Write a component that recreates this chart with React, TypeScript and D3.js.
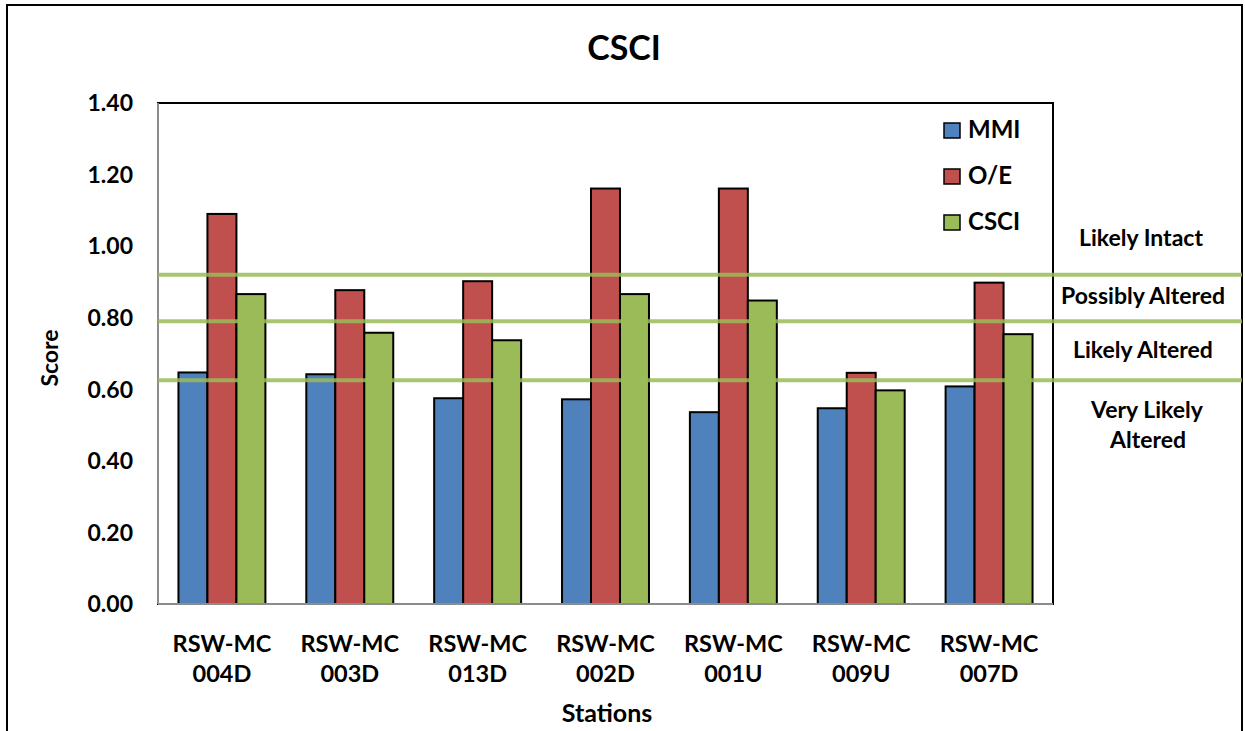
import React from "react";
import * as d3 from "d3";

const stations = ["RSW-MC\n004D", "RSW-MC\n003D", "RSW-MC\n013D", "RSW-MC\n002D", "RSW-MC\n001U", "RSW-MC\n009U", "RSW-MC\n007D"];
const seriesNames = ["MMI", "O/E", "CSCI"];
const mmi = [0.647, 0.642, 0.575, 0.572, 0.536, 0.547, 0.608];
const oe = [1.09, 0.877, 0.902, 1.161, 1.161, 0.646, 0.898];
const csci = [0.866, 0.758, 0.737, 0.866, 0.848, 0.597, 0.754];
const yTicks = [0, 0.2, 0.4, 0.6, 0.8, 1.0, 1.2, 1.4];
const thresholds = [0.92, 0.79, 0.625];
const colors = ["#4F81BD", "#C0504D", "#9BBB59"];

const FONT = "Lato, 'Open Sans', sans-serif";

export default function App() {
  const W = 1245, H = 731;
  const left = 158, right = 1053, top = 103, bottom = 604;
  const x = d3.scaleBand<number>().domain(d3.range(stations.length)).range([left, right]).paddingInner(0.32).paddingOuter(0.16);
  const xs = d3.scaleBand<number>().domain([0, 1, 2]).range([0, x.bandwidth()]).padding(0);
  const y = d3.scaleLinear().domain([0, 1.4]).range([bottom, top]);
  const series = [mmi, oe, csci];

  return (
    <svg width={W} height={H} style={{ position: "absolute", left: 0, top: 0, background: "#fff" }} fontFamily={FONT}>
      <rect x={0} y={0} width={W} height={H} fill="#fff" />
      {/* outer frame */}
      <rect x={7} y={5} width={1235} height={740} fill="none" stroke="#000" strokeWidth={2} />
      {/* title */}
      <text x={624} y={60} textAnchor="middle" fontSize={34} fontWeight="bold" fill="#000">CSCI</text>
      {/* plot area border */}
      <rect x={left} y={top} width={right - left} height={bottom - top} fill="none" stroke="#000" strokeWidth={2} />
      {/* bars */}
      {series.map((vals, si) =>
        vals.map((v, i) => (
          <rect
            key={`${si}-${i}`}
            x={(x(i) as number) + (xs(si) as number)}
            y={y(v)}
            width={xs.bandwidth()}
            height={y(0) - y(v)}
            fill={colors[si]}
            stroke="#000"
            strokeWidth={2}
          />
        ))
      )}
      {/* axes (gray) */}
      <line x1={left} x2={left} y1={top} y2={bottom} stroke="#8c8c8c" strokeWidth={2} />
      <line x1={left} x2={right} y1={bottom} y2={bottom} stroke="#8c8c8c" strokeWidth={2} />
      {/* threshold lines */}
      {thresholds.map((t, i) => (
        <line key={i} x1={left} x2={1242} y1={y(t)} y2={y(t)} stroke="#9BBB59" strokeOpacity={0.85} strokeWidth={4} />
      ))}
      {/* y tick labels */}
      {yTicks.map((t) => (
        <text key={t} x={133} y={y(t)} dy="0.36em" textAnchor="end" fontSize={23} fontWeight="bold" fill="#000">
          {t.toFixed(2)}
        </text>
      ))}
      {/* x labels */}
      {stations.map((s, i) => {
        const cx = (x(i) as number) + x.bandwidth() / 2;
        const parts = s.split("\n");
        return (
          <g key={i}>
            <text x={cx} y={652} textAnchor="middle" fontSize={23.5} fontWeight="bold" fill="#000">{parts[0]}</text>
            <text x={cx} y={682} textAnchor="middle" fontSize={23.5} fontWeight="bold" fill="#000">{parts[1]}</text>
          </g>
        );
      })}
      {/* axis titles */}
      <text x={607} y={722} textAnchor="middle" fontSize={25} fontWeight="bold" fill="#000">Stations</text>
      <text transform={`translate(58,${358}) rotate(-90)`} textAnchor="middle" fontSize={23} fontWeight="bold" fill="#000">Score</text>
      {/* legend */}
      {seriesNames.map((n, i) => (
        <g key={n}>
          <rect x={944} y={123 + i * 46} width={16} height={15} fill={colors[i]} stroke="#000" strokeWidth={1.5} />
          <text x={968} y={138 + i * 46} fontSize={24} fontWeight="bold" fill="#000">{n}</text>
        </g>
      ))}
      {/* zone labels */}
      <text x={1141} y={246} textAnchor="middle" fontSize={23} fontWeight="bold" fill="#000">Likely Intact</text>
      <text x={1143} y={304} textAnchor="middle" fontSize={23} fontWeight="bold" fill="#000">Possibly Altered</text>
      <text x={1143} y={358} textAnchor="middle" fontSize={23} fontWeight="bold" fill="#000">Likely Altered</text>
      <text x={1147} y={418} textAnchor="middle" fontSize={23} fontWeight="bold" fill="#000">Very Likely</text>
      <text x={1148} y={448} textAnchor="middle" fontSize={23} fontWeight="bold" fill="#000">Altered</text>
    </svg>
  );
}
